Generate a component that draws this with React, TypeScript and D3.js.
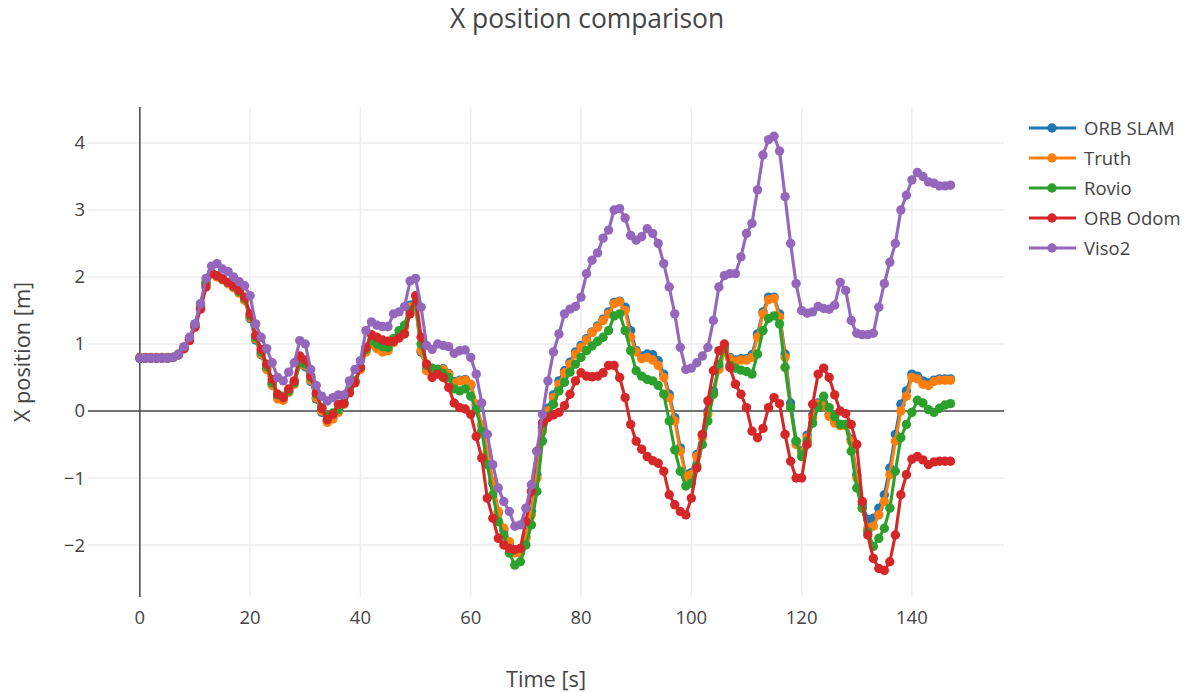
import { useEffect, useRef } from "react";
import * as d3 from "d3";

const time = [
  0, 1, 2, 3, 4, 5, 6, 7, 8, 9, 10, 11, 12, 13, 14, 15, 16, 17, 18, 19, 20, 21, 22, 23, 24, 25, 26, 27, 28, 29,
  30, 31, 32, 33, 34, 35, 36, 37, 38, 39, 40, 41, 42, 43, 44, 45, 46, 47, 48, 49, 50, 51, 52, 53, 54, 55, 56, 57, 58, 59,
  60, 61, 62, 63, 64, 65, 66, 67, 68, 69, 70, 71, 72, 73, 74, 75, 76, 77, 78, 79, 80, 81, 82, 83, 84, 85, 86, 87, 88, 89,
  90, 91, 92, 93, 94, 95, 96, 97, 98, 99, 100, 101, 102, 103, 104, 105, 106, 107, 108, 109, 110, 111, 112, 113, 114, 115, 116, 117, 118, 119,
  120, 121, 122, 123, 124, 125, 126, 127, 128, 129, 130, 131, 132, 133, 134, 135, 136, 137, 138, 139, 140, 141, 142, 143, 144, 145, 146, 147,
];

const orbSlam = [
  0.79, 0.79, 0.79, 0.79, 0.79, 0.79, 0.8, 0.85, 0.95, 1.08,
  1.3, 1.6, 1.92, 2.06, 2.01, 1.96, 1.91, 1.85, 1.77, 1.66,
  1.38, 1.06, 0.84, 0.63, 0.4, 0.2, 0.17, 0.29, 0.42, 0.7,
  0.66, 0.44, 0.18, -0.02, -0.15, -0.1, 0.0, 0.12, 0.3, 0.45,
  0.64, 0.9, 1.02, 0.96, 0.9, 0.92, 1.04, 1.14, 1.27, 1.58,
  1.58, 0.88, 0.62, 0.58, 0.62, 0.63, 0.56, 0.44, 0.46, 0.47,
  0.38, 0.08, -0.22, -0.63, -1.08, -1.52, -1.78, -1.98, -2.1, -2.1,
  -1.88, -1.5, -0.95, -0.25, 0.04, 0.24, 0.45, 0.6, 0.73, 0.88,
  0.98, 1.08, 1.18, 1.27, 1.37, 1.48, 1.62, 1.64, 1.55, 1.2,
  0.9, 0.82, 0.85, 0.84, 0.75, 0.55, 0.25, -0.1, -0.55, -0.95,
  -0.92, -0.65, -0.36, 0.0, 0.3, 0.66, 0.9, 0.8, 0.76, 0.78,
  0.78, 0.84, 1.15, 1.48, 1.7, 1.7, 1.45, 0.85, 0.12, -0.45,
  -0.6, -0.36, -0.06, 0.12, 0.1, -0.05, -0.15, -0.2, -0.2, -0.42,
  -0.95, -1.4, -1.62, -1.6, -1.45, -1.25, -0.85, -0.35, 0.1, 0.3,
  0.55, 0.52, 0.45, 0.42, 0.46, 0.48, 0.48, 0.48,
];

const truth = [
  0.8, 0.8, 0.8, 0.8, 0.8, 0.8, 0.8, 0.84, 0.94, 1.06,
  1.28, 1.58, 1.9, 2.05, 2.0, 1.96, 1.9, 1.84, 1.76, 1.65,
  1.4, 1.08, 0.85, 0.62, 0.38, 0.18, 0.16, 0.28, 0.4, 0.7,
  0.68, 0.46, 0.2, 0.0, -0.17, -0.12, -0.02, 0.1, 0.28, 0.43,
  0.62, 0.88, 1.0, 0.93, 0.88, 0.9, 1.02, 1.12, 1.25, 1.55,
  1.6, 0.9, 0.6, 0.55, 0.6, 0.62, 0.55, 0.42, 0.45, 0.46,
  0.4, 0.1, -0.2, -0.6, -1.05, -1.5, -1.75, -1.95, -2.12, -2.12,
  -1.9, -1.55, -1.0, -0.3, 0.0, 0.2, 0.4, 0.57, 0.7, 0.85,
  0.95, 1.06, 1.17, 1.25, 1.35, 1.45, 1.6, 1.63, 1.5, 1.1,
  0.88, 0.78, 0.8, 0.76, 0.68, 0.5, 0.2, -0.15, -0.6, -0.98,
  -0.95, -0.68, -0.4, -0.05, 0.25, 0.62, 0.88, 0.78, 0.74, 0.76,
  0.76, 0.8, 1.1, 1.45, 1.66, 1.68, 1.4, 0.8, 0.05, -0.5,
  -0.62, -0.4, -0.1, 0.1, 0.08, -0.08, -0.18, -0.22, -0.22, -0.45,
  -1.0, -1.45, -1.75, -1.72, -1.55, -1.35, -0.95, -0.45, 0.0, 0.22,
  0.5, 0.48, 0.4, 0.38, 0.44, 0.46, 0.46, 0.46,
];

const rovio = [
  0.79, 0.79, 0.79, 0.79, 0.79, 0.79, 0.8, 0.84, 0.93, 1.06,
  1.27, 1.55, 1.9, 2.05, 2.02, 1.97, 1.92, 1.86, 1.78, 1.68,
  1.42, 1.1, 0.88, 0.66, 0.42, 0.24, 0.22, 0.3, 0.42, 0.72,
  0.7, 0.5, 0.25, 0.05, -0.08, -0.03, 0.02, 0.12, 0.3, 0.45,
  0.65, 0.92, 1.05, 1.0, 0.96, 0.95, 1.08, 1.2, 1.28, 1.5,
  1.62, 1.0, 0.68, 0.64, 0.62, 0.56, 0.5, 0.33, 0.3, 0.33,
  0.22, 0.02, -0.3, -0.8, -1.25, -1.65, -1.85, -2.12, -2.3, -2.25,
  -2.0, -1.7, -1.2, -0.45, -0.08, 0.1, 0.3, 0.43, 0.58, 0.7,
  0.8, 0.9, 0.97, 1.04, 1.1, 1.2, 1.42, 1.45, 1.2, 0.9,
  0.6, 0.52, 0.47, 0.45, 0.38, 0.25, -0.15, -0.58, -0.9, -1.12,
  -1.08, -0.82, -0.5, -0.15, 0.25, 0.7, 0.95, 0.68, 0.64, 0.61,
  0.59, 0.55, 0.85, 1.2, 1.38, 1.42, 1.3, 0.65, 0.05, -0.45,
  -0.68, -0.45, -0.18, 0.06, 0.22, 0.05, -0.08, -0.2, -0.2, -0.6,
  -1.15, -1.45, -1.8, -2.02, -1.9, -1.75, -1.45, -0.9, -0.4, -0.2,
  -0.02, 0.16, 0.12, 0.02, -0.02, 0.04, 0.09, 0.11,
];

const orbOdom = [
  0.79, 0.79, 0.79, 0.79, 0.79, 0.79, 0.8, 0.84, 0.93, 1.05,
  1.25, 1.52, 1.85, 2.05, 2.02, 1.97, 1.92, 1.86, 1.8, 1.7,
  1.45, 1.13, 0.92, 0.7, 0.47, 0.25, 0.2, 0.33, 0.45, 0.82,
  0.76, 0.52, 0.27, 0.04, -0.13, -0.05, 0.1, 0.11, 0.27, 0.42,
  0.65, 0.95, 1.14, 1.1, 1.06, 1.04, 1.04, 1.09, 1.15, 1.45,
  1.72, 1.1, 0.7, 0.5, 0.55, 0.5, 0.35, 0.12, 0.05, 0.03,
  -0.05, -0.38, -0.7, -1.3, -1.6, -1.9, -2.0, -2.05, -2.07, -2.05,
  -1.65, -1.2, -0.6, -0.18, -0.1, -0.06, -0.02, 0.08, 0.25, 0.45,
  0.57, 0.52, 0.51, 0.52, 0.57, 0.68, 0.68, 0.5, 0.2, -0.2,
  -0.45, -0.57, -0.68, -0.74, -0.78, -0.9, -1.25, -1.4, -1.5, -1.55,
  -1.3, -0.85, -0.35, 0.15, 0.6, 0.9, 1.0, 0.65, 0.4, 0.25,
  0.05, -0.3, -0.4, -0.26, 0.05, 0.2, 0.11, -0.35, -0.75, -1.0,
  -1.0, -0.5, 0.1, 0.55, 0.64, 0.5, 0.24, 0.0, -0.04, -0.2,
  -0.5, -1.35, -1.85, -2.2, -2.35, -2.38, -2.25, -1.85, -1.25, -0.95,
  -0.72, -0.68, -0.73, -0.8, -0.76, -0.75, -0.75, -0.75,
];

const viso2 = [
  0.79, 0.79, 0.79, 0.79, 0.79, 0.79, 0.8, 0.84, 0.96, 1.1,
  1.3, 1.6, 1.98, 2.16, 2.2, 2.12, 2.08, 2.0, 1.93, 1.87,
  1.72, 1.3, 1.1, 0.93, 0.72, 0.5, 0.45, 0.58, 0.72, 1.05,
  1.0, 0.62, 0.38, 0.22, 0.15, 0.2, 0.24, 0.24, 0.45, 0.62,
  0.75, 1.2, 1.33, 1.28, 1.26, 1.26, 1.45, 1.48, 1.56, 1.94,
  1.98, 1.55, 0.98, 0.92, 1.0, 0.98, 0.96, 0.86, 0.9, 0.91,
  0.8, 0.55, 0.12, -0.35, -0.8, -1.15, -1.35, -1.5, -1.72, -1.7,
  -1.45, -1.1, -0.6, -0.05, 0.45, 0.88, 1.15, 1.45, 1.52, 1.56,
  1.7, 2.05, 2.25, 2.36, 2.58, 2.7, 3.0, 3.02, 2.88, 2.62,
  2.55, 2.6, 2.72, 2.65, 2.5, 2.2, 1.85, 1.45, 0.95, 0.62,
  0.64, 0.72, 0.82, 0.95, 1.35, 1.85, 2.02, 2.05, 2.05, 2.3,
  2.65, 2.8, 3.3, 3.82, 4.05, 4.1, 3.88, 3.2, 2.5, 1.9,
  1.5, 1.46, 1.48, 1.56, 1.53, 1.52, 1.58, 1.92, 1.8, 1.35,
  1.16, 1.14, 1.14, 1.16, 1.55, 1.9, 2.22, 2.5, 3.0, 3.22,
  3.45, 3.56, 3.5, 3.42, 3.4, 3.36, 3.36, 3.37,
];

const seriesNames = ["ORB SLAM", "Truth", "Rovio", "ORB Odom", "Viso2"];
const seriesColors = ["#1f77b4", "#ff7f0e", "#2ca02c", "#d62728", "#9467bd"];
const xTicks = [0, 20, 40, 60, 80, 100, 120, 140];
const yTicks = [-2, -1, 0, 1, 2, 3, 4];

const WIDTH = 1188;
const HEIGHT = 693;
const FONT = "'Open Sans', 'Noto Sans', sans-serif";
const TEXT = "#444";

export default function App() {
  const ref = useRef<SVGSVGElement>(null);

  useEffect(() => {
    const svg = d3.select(ref.current);
    svg.selectAll("*").remove();

    const left = 88;
    const right = 1004;
    const top = 107;
    const bottom = 597;

    const x = d3.scaleLinear().domain([-9.4, 156.7]).range([left, right]);
    const y = d3.scaleLinear().domain([-2.776, 4.537]).range([bottom, top]);

    svg.append("rect").attr("width", WIDTH).attr("height", HEIGHT).attr("fill", "#fff");

    svg
      .append("defs")
      .append("clipPath")
      .attr("id", "plot-clip")
      .append("rect")
      .attr("x", left)
      .attr("y", top)
      .attr("width", right - left)
      .attr("height", bottom - top);

    // grid
    svg
      .selectAll("line.xgrid")
      .data(xTicks.filter((t) => t !== 0))
      .join("line")
      .attr("class", "xgrid")
      .attr("x1", (t) => x(t))
      .attr("x2", (t) => x(t))
      .attr("y1", top)
      .attr("y2", bottom)
      .attr("stroke", "#eee")
      .attr("stroke-width", 1.5);

    svg
      .selectAll("line.ygrid")
      .data(yTicks.filter((t) => t !== 0))
      .join("line")
      .attr("class", "ygrid")
      .attr("x1", left)
      .attr("x2", right)
      .attr("y1", (t) => y(t))
      .attr("y2", (t) => y(t))
      .attr("stroke", "#eee")
      .attr("stroke-width", 1.5);

    // zero lines
    svg
      .append("line")
      .attr("x1", x(0))
      .attr("x2", x(0))
      .attr("y1", top)
      .attr("y2", bottom)
      .attr("stroke", TEXT)
      .attr("stroke-width", 1.5);
    svg
      .append("line")
      .attr("x1", left)
      .attr("x2", right)
      .attr("y1", y(0))
      .attr("y2", y(0))
      .attr("stroke", TEXT)
      .attr("stroke-width", 1.5);

    // tick labels
    svg
      .selectAll("text.xtick")
      .data(xTicks)
      .join("text")
      .attr("class", "xtick")
      .attr("x", (t) => x(t))
      .attr("y", 624)
      .attr("text-anchor", "middle")
      .attr("font-family", FONT)
      .attr("font-size", 18.5)
      .attr("fill", TEXT)
      .text((t) => String(t));

    svg
      .selectAll("text.ytick")
      .data(yTicks)
      .join("text")
      .attr("class", "ytick")
      .attr("x", left - 3)
      .attr("y", (t) => y(t) + 6.5)
      .attr("text-anchor", "end")
      .attr("font-family", FONT)
      .attr("font-size", 18.5)
      .attr("fill", TEXT)
      .text((t) => (t < 0 ? `\u2212${Math.abs(t)}` : String(t)));

    // traces
    const allSeries = [orbSlam, truth, rovio, orbOdom, viso2];
    const line = d3
      .line<number>()
      .x((_, i) => x(time[i]))
      .y((v) => y(v));

    const plot = svg.append("g").attr("clip-path", "url(#plot-clip)");
    allSeries.forEach((values, s) => {
      const g = plot.append("g");
      g.append("path")
        .attr("d", line(values))
        .attr("fill", "none")
        .attr("stroke", seriesColors[s])
        .attr("stroke-width", 3.1)
        .attr("stroke-linejoin", "round");
      g.selectAll("circle")
        .data(values)
        .join("circle")
        .attr("cx", (_, i) => x(time[i]))
        .attr("cy", (v) => y(v))
        .attr("r", 4.7)
        .attr("fill", seriesColors[s]);
    });

    // legend
    const legend = svg.append("g");
    seriesNames.forEach((name, i) => {
      const ly = 128 + i * 30;
      legend
        .append("line")
        .attr("x1", 1029)
        .attr("x2", 1076)
        .attr("y1", ly)
        .attr("y2", ly)
        .attr("stroke", seriesColors[i])
        .attr("stroke-width", 3.1);
      legend.append("circle").attr("cx", 1052).attr("cy", ly).attr("r", 4.7).attr("fill", seriesColors[i]);
      legend
        .append("text")
        .attr("x", 1084)
        .attr("y", ly + 6.5)
        .attr("font-family", FONT)
        .attr("font-size", 18.5)
        .attr("fill", TEXT)
        .text(name);
    });

    // titles
    svg
      .append("text")
      .attr("x", 587)
      .attr("y", 28)
      .attr("text-anchor", "middle")
      .attr("font-family", FONT)
      .attr("font-size", 26.4)
      .attr("fill", TEXT)
      .text("X position comparison");

    svg
      .append("text")
      .attr("x", (left + right) / 2)
      .attr("y", 687)
      .attr("text-anchor", "middle")
      .attr("font-family", FONT)
      .attr("font-size", 21.8)
      .attr("fill", TEXT)
      .text("Time [s]");

    svg
      .append("text")
      .attr("transform", `translate(30,${(top + bottom) / 2}) rotate(-90)`)
      .attr("text-anchor", "middle")
      .attr("font-family", FONT)
      .attr("font-size", 21.8)
      .attr("fill", TEXT)
      .text("X position [m]");
  }, []);

  return (
    <div style={{ position: "fixed", left: 0, top: 0 }}>
      <svg ref={ref} width={WIDTH} height={HEIGHT} style={{ display: "block" }} />
    </div>
  );
}
